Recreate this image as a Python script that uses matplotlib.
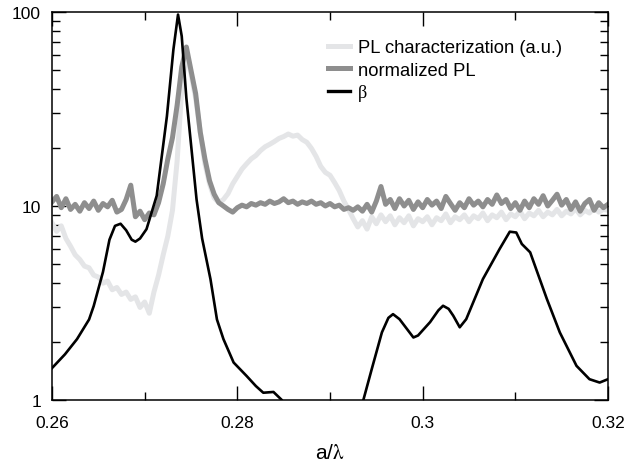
import numpy as np
import matplotlib
matplotlib.use("Agg")
import matplotlib.pyplot as plt
from matplotlib.ticker import FixedLocator, LogLocator, NullFormatter

plt.rcParams.update({
    "font.family": ["Liberation Sans", "DejaVu Sans"],
    "mathtext.fontset": "stix",
})

# -- datos ----------------------------------------------------------
# muestreo común de los dos espectros PL (paso 0.0005)
x_pl = np.round(np.arange(0.26, 0.32001, 0.0005), 4)

pl_charact = [
    8.2, 7.4, 7.9, 6.8, 6.2, 5.6, 5.3, 4.9, 4.8, 4.4,
    4.3, 4.0, 4.1, 3.7, 3.8, 3.5, 3.6, 3.3, 3.4, 3.0,
    3.2, 2.8, 3.6, 4.4, 5.6, 7.0, 9.5, 17, 40, 62,
    48, 36, 24, 16.5, 13, 11, 10.4, 10.8, 11.6, 13,
    14.2, 15.5, 16.5, 17.5, 18.2, 19.3, 20.2, 20.8, 21.5, 22.3,
    22.8, 23.5, 22.9, 23.2, 22.0, 21.3, 19.8, 18.0, 16.0, 14.9,
    14.4, 13.2, 12.0, 10.6, 9.6, 8.6, 7.8, 8.4, 7.6, 8.8,
    8.1, 9.0, 8.3, 8.9, 8.0, 8.7, 8.2, 8.9, 7.9, 8.6,
    8.3, 8.8, 8.0, 8.7, 8.4, 9.1, 8.2, 8.8, 8.5, 9.0,
    8.3, 8.9, 8.6, 9.2, 8.4, 9.0, 8.7, 9.3, 8.5, 9.1,
    8.8, 9.4, 8.6, 9.2, 8.9, 9.5, 8.8, 9.3, 9.0, 9.6,
    8.9, 9.4, 9.1, 9.7, 9.0, 9.5, 9.2, 9.8, 9.3, 9.6,
    9.5,
]

pl_norm = [
    10.5, 11.2, 9.8, 10.9, 9.6, 10.2, 9.4, 10.4, 9.7, 10.6,
    9.5, 10.3, 9.9, 10.7, 9.3, 9.6, 10.8, 12.8, 8.8, 9.4,
    8.5, 9.2, 9.0, 10.4, 13.0, 17.5, 22.5, 33, 52, 66,
    50, 38, 24, 17.5, 13.5, 11.5, 10.4, 10.0, 9.6, 9.3,
    9.8, 10.1, 9.9, 10.3, 10.1, 10.4, 10.2, 10.6, 10.3, 10.5,
    10.9, 10.4, 10.6, 10.2, 10.5, 10.3, 10.6, 10.2, 10.4, 10.0,
    10.3, 9.9, 10.1, 9.6, 9.8, 9.5, 9.9, 9.4, 10.2, 9.3,
    10.6, 12.6, 10.2, 10.8, 9.7, 10.9, 10.0, 10.7, 9.6, 10.5,
    9.8, 10.8, 10.1, 10.6, 9.7, 11.2, 10.3, 9.5, 10.4, 9.8,
    10.9, 10.1, 10.6, 9.9, 10.8, 10.2, 11.4, 10.3, 10.8, 9.7,
    10.4, 9.5, 10.6, 9.8, 10.9, 10.2, 11.3, 10.0, 10.7, 11.5,
    10.1, 10.8, 9.6, 10.5, 9.4, 10.3, 10.8, 9.5, 10.4, 9.8,
    10.2,
]

x_beta = [
    0.2600, 0.2614, 0.2627, 0.2640, 0.2645, 0.2655, 0.2662, 0.2668, 0.2674, 0.2680,
    0.2686, 0.2690, 0.2695, 0.2702, 0.2713, 0.2724, 0.2731, 0.2736, 0.2740, 0.2745,
    0.2756, 0.2762, 0.2771, 0.2778, 0.2785, 0.2796, 0.2810, 0.2820, 0.2828, 0.2839,
    0.2848, 0.2855, 0.2900, 0.2930, 0.2936, 0.2945, 0.2956, 0.2963, 0.2968, 0.2975,
    0.2990, 0.2995, 0.3008, 0.3017, 0.3022, 0.3028, 0.3033, 0.3040, 0.3047, 0.3065,
    0.3083, 0.3094, 0.3101, 0.3107, 0.3116, 0.3134, 0.3148, 0.3166, 0.3180, 0.3191,
    0.3200,
]
beta = [
    1.46, 1.72, 2.06, 2.6, 3.05, 4.57, 6.7, 7.9, 8.1, 7.5,
    6.7, 6.55, 6.8, 7.6, 11.3, 29, 64, 97, 75, 36,
    10.8, 6.8, 4.2, 2.6, 2.06, 1.56, 1.33, 1.18, 1.09, 1.10,
    1.0, 0.85, 0.5, 0.85, 1.0, 1.44, 2.23, 2.65, 2.77, 2.61,
    2.10, 2.15, 2.52, 2.9, 3.06, 2.95, 2.72, 2.37, 2.61, 4.2,
    6.0, 7.37, 7.3, 6.37, 5.77, 3.32, 2.23, 1.50, 1.28, 1.23,
    1.28,
]

x_ticks = [0.26, 0.28, 0.30, 0.32]
x_ticklabels = ["0.26", "0.28", "0.3", "0.32"]
y_ticks = [1, 10, 100]
y_ticklabels = ["1", "10", "100"]

# -- figura ---------------------------------------------------------
fig = plt.figure(figsize=(6.25, 4.64), dpi=100)
ax = fig.add_axes([0.0832, 0.1358, 0.8896, 0.8362])

ax.plot(x_pl, pl_charact, color="#e4e5e7", lw=3.6, label="PL characterization (a.u.)")
ax.plot(x_pl, pl_norm, color="#8e8e8e", lw=3.6, label="normalized PL")
ax.plot(x_beta, beta, color="black", lw=1.9, label="β")

ax.set_yscale("log")
ax.set_xlim(0.26, 0.32)
ax.set_ylim(1, 100)

ax.xaxis.set_major_locator(FixedLocator(x_ticks))
ax.set_xticklabels(x_ticklabels)
ax.xaxis.set_minor_locator(FixedLocator([0.27, 0.29, 0.31]))
ax.yaxis.set_major_locator(FixedLocator(y_ticks))
ax.set_yticklabels(y_ticklabels)
ax.yaxis.set_minor_locator(LogLocator(base=10, subs=np.arange(2, 10)))
ax.yaxis.set_minor_formatter(NullFormatter())

ax.tick_params(which="both", direction="in", top=True, right=True,
               labelsize=12.5, width=1, colors="black")
ax.tick_params(which="major", length=10, pad=8)
ax.tick_params(axis="x", which="major", pad=11)
ax.tick_params(which="minor", length=5.5)
for s in ax.spines.values():
    s.set_linewidth(1.1)

ax.set_xlabel(r"a/$\mathrm{\lambda}$", fontsize=15, labelpad=9)

leg = ax.legend(loc="upper left", bbox_to_anchor=(0.496, 0.93), frameon=False,
                fontsize=13.2, handlelength=1.2, handletextpad=0.45,
                borderpad=0, borderaxespad=0, labelspacing=0.3)
leg.get_texts()[2].set_family(["Liberation Serif", "DejaVu Serif"])
leg.get_lines()[2].set_linewidth(2.4)

fig.savefig("out.png", dpi=100)
